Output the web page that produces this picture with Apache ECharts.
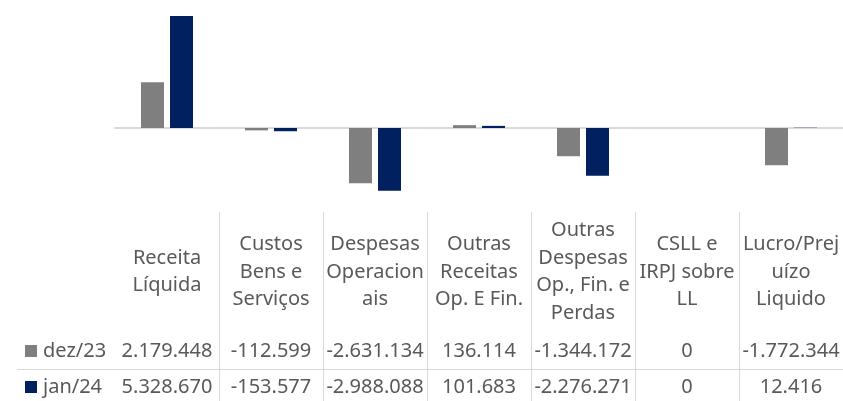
<!DOCTYPE html>
<html>
<head>
<meta charset="utf-8">
<script src="https://cdn.jsdelivr.net/npm/echarts@6/dist/echarts.min.js"></script>
<style>
  html, body { margin: 0; padding: 0; background: #fff; }
  #chart { width: 843px; height: 401px; }
</style>
</head>
<body>
<div id="chart"></div>
<script>
const categories = [
  'Receita\nLíquida',
  'Custos\nBens e\nServiços',
  'Despesas\nOperacion\nais',
  'Outras\nReceitas\nOp. E Fin.',
  'Outras\nDespesas\nOp., Fin. e\nPerdas',
  'CSLL e\nIRPJ sobre\nLL',
  'Lucro/Prej\nuízo\nLiquido'
]
const seriesNames = ['dez/23', 'jan/24']
const dez23 = [2179448, -112599, -2631134, 136114, -1344172, 0, -1772344]
const jan24 = [5328670, -153577, -2988088, 101683, -2276271, 0, 12416]

// formato brasileiro: 2.179.448
const fmt = v => (v < 0 ? '-' : '') + String(Math.abs(v)).replace(/\B(?=(\d{3})+(?!\d))/g, '.')

const textColor = '#595959'
const lineColor = '#d9d9d9'
const font = 'Noto Sans'

const tableAxis = (data, offset, extra) => Object.assign({
  type: 'category',
  gridIndex: 1,
  position: 'top',
  offset: offset,
  data: data,
  axisLine: { show: false },
  axisTick: { show: false },
  splitLine: { show: false },
  axisLabel: {
    interval: 0,
    margin: 0,
    verticalAlign: 'middle',
    align: 'center',
    color: textColor,
    fontFamily: font,
    fontSize: 20,
    lineHeight: 27.5
  }
}, extra || {})

const chart = echarts.init(document.getElementById('chart'))

const option = {
  animation: false,
  color: ['#7f7f7f', '#002060'],
  legend: {
    data: seriesNames,
    orient: 'vertical',
    left: 25,
    top: 341,
    padding: 0,
    itemGap: 16,
    itemWidth: 12,
    itemHeight: 12,
    icon: 'rect',
    selectedMode: false,
    textStyle: { color: textColor, fontFamily: font, fontSize: 20, lineHeight: 20, padding: [0, 0, 0, 1] }
  },
  grid: [
    { left: 115, right: 0, top: 2, height: 189 },
    { left: 115, right: 0, top: 212, bottom: 0 }
  ],
  xAxis: [
    {
      type: 'category',
      gridIndex: 0,
      data: categories,
      axisLine: { onZero: true, lineStyle: { color: lineColor, width: 2 } },
      axisTick: { show: false },
      axisLabel: { show: false }
    },
    tableAxis(categories, -60, {
      splitLine: {
        show: true,
        interval: (i) => i > 0,
        lineStyle: { color: lineColor, width: 1 }
      }
    }),
    tableAxis(dez23.map(fmt), -139),
    tableAxis(jan24.map(fmt), -175)
  ],
  yAxis: [
    { type: 'value', gridIndex: 0, min: -3000000, max: 6000000, show: false },
    { type: 'value', gridIndex: 1, show: false }
  ],
  graphic: [
    {
      type: 'line',
      silent: true,
      shape: { x1: 17, y1: 369.5, x2: 843, y2: 369.5 },
      style: { stroke: lineColor, lineWidth: 1 }
    }
  ],
  series: [
    {
      name: seriesNames[0],
      type: 'bar',
      xAxisIndex: 0,
      yAxisIndex: 0,
      data: dez23,
      barWidth: 23,
      barGap: '26%'
    },
    {
      name: seriesNames[1],
      type: 'bar',
      xAxisIndex: 0,
      yAxisIndex: 0,
      data: jan24,
      barWidth: 23,
      barGap: '26%'
    }
  ]
}

chart.setOption(option)
window.addEventListener('resize', () => chart.resize())
</script>
</body>
</html>
